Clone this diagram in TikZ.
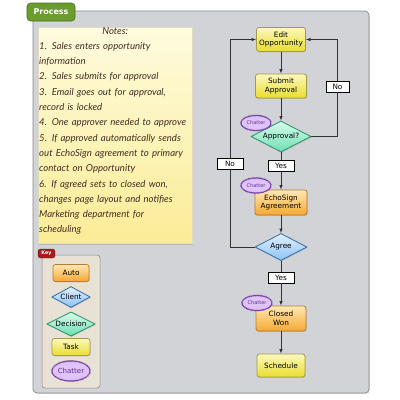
\documentclass[tikz,border=0pt]{standalone}
\usepackage{fontspec}
\setmainfont{DejaVu Sans}
\newfontfamily\notefont{Lato}
\usetikzlibrary{shapes.geometric,decorations.pathmorphing,shadows}

\definecolor{panelfill}{RGB}{209,211,214}
\definecolor{panelline}{RGB}{135,137,140}
\definecolor{tabgreen}{RGB}{106,156,46}
\definecolor{tabline}{RGB}{70,115,28}
\definecolor{notetop}{RGB}{255,251,222}
\definecolor{notebot}{RGB}{250,236,150}
\definecolor{noteink}{RGB}{70,45,35}
\definecolor{tasktop}{RGB}{252,248,190}
\definecolor{taskbot}{RGB}{232,222,45}
\definecolor{taskline}{RGB}{165,155,70}
\definecolor{autotop}{RGB}{255,232,180}
\definecolor{autobot}{RGB}{246,168,50}
\definecolor{autoline}{RGB}{185,125,45}
\definecolor{clienttop}{RGB}{225,240,255}
\definecolor{clientbot}{RGB}{140,195,245}
\definecolor{clientline}{RGB}{55,105,165}
\definecolor{dectop}{RGB}{215,252,235}
\definecolor{decbot}{RGB}{110,222,180}
\definecolor{decline}{RGB}{45,145,105}
\definecolor{chatfill}{RGB}{222,195,252}
\definecolor{chatline}{RGB}{120,65,165}
\definecolor{keyfill}{RGB}{232,226,214}
\definecolor{keyred}{RGB}{160,30,30}

\tikzset{
  shape base/.style={align=center, inner sep=1pt, font=\fontsize{7.3}{8.6}\selectfont,
    drop shadow={shadow xshift=0.6pt, shadow yshift=-0.9pt, opacity=0.3}},
  taskbox/.style={shape base, rectangle, rounded corners=2.5pt, draw=taskline, line width=0.8pt,
    top color=tasktop, bottom color=taskbot, minimum width=49pt, minimum height=24pt},
  autobox/.style={shape base, rectangle, rounded corners=2.5pt, draw=autoline, line width=0.8pt,
    top color=autotop, bottom color=autobot, minimum width=51pt, minimum height=25pt},
  clientdia/.style={shape base, diamond, aspect=2, draw=clientline, line width=0.8pt,
    top color=clienttop, bottom color=clientbot, minimum width=52pt, minimum height=27pt},
  decisiondia/.style={shape base, diamond, aspect=2, draw=decline, line width=0.8pt,
    top color=dectop, bottom color=decbot, minimum width=60pt, minimum height=31pt},
  chatterbub/.style={ellipse, draw=chatline, fill=chatfill, line width=0.6pt, inner sep=0pt,
    decorate, decoration={zigzag, segment length=1.3pt, amplitude=0.45pt},
    minimum width=30pt, minimum height=15pt, font=\fontsize{5}{5.5}\selectfont, text=chatline!80!black},
  lbl/.style={rectangle, draw=black, fill=white, line width=0.5pt, inner sep=1.2pt,
    minimum height=11pt, font=\fontsize{7.3}{8}\selectfont},
  flow/.style={draw=black!80, line width=0.6pt},
  >=latex
}

\begin{document}
\begin{tikzpicture}[x=1pt,y=-1pt]
  \useasboundingbox (0,0) rectangle (400,400);

  % panel and tab
  \draw[panelline, fill=panelfill, rounded corners=4pt, line width=0.7pt,
    drop shadow={shadow xshift=0.8pt, shadow yshift=-1pt, opacity=0.25}] (33,11) rectangle (369,393);
  \draw[tabline, fill=tabgreen, rounded corners=3.5pt, line width=0.6pt] (27,3) rectangle (75,21);
  \node[text=white, font=\fontsize{8}{8}\selectfont\bfseries] (tab) at (51,12) {Process};

  % sticky note
  \draw[draw=notebot!70!black!40, top color=notetop, bottom color=notebot, line width=0.3pt,
    drop shadow={shadow xshift=1pt, shadow yshift=-1.5pt, opacity=0.3}] (38,27) rectangle (192,243);
  \node[anchor=north west, text width=152pt, inner sep=0pt, text=noteink, align=left,
    font=\notefont\itshape\fontsize{9.6}{15.3}\selectfont] (notes) at (39,27) {%
    \centerline{Notes:}
    1. Sales enters opportunity\\
    information\\
    2. Sales submits for approval\\
    3. Email goes out for approval,\\
    record is locked\\
    4. One approver needed to approve\\
    5. If approved automatically sends\\
    out EchoSign agreement to primary\\
    contact on Opportunity\\
    6. If agreed sets to closed won,\\
    changes page layout and notifies\\
    Marketing department for\\
    scheduling};

  % key
  \draw[panelline, fill=keyfill, rounded corners=3pt, line width=0.5pt] (42,255) rectangle (100,388);
  \draw[keyred!80!black, fill=keyred, rounded corners=2.5pt] (38,249) rectangle (55,258);
  \node[text=white, font=\fontsize{4.8}{5}\selectfont\bfseries] (keytab) at (46.5,253.5) {Key};
  \node[autobox, minimum width=36pt, minimum height=17pt] (keyauto) at (71,273) {Auto};
  \node[clientdia, minimum width=38pt, minimum height=21pt] (keyclient) at (71,297) {Client};
  \node[decisiondia, minimum width=38pt, minimum height=21pt] (keydec) at (71,324) {Decision};
  \node[taskbox, minimum width=38pt, minimum height=17pt] (keytask) at (71,347) {Task};
  \node[chatterbub, minimum width=38pt, minimum height=20pt, font=\fontsize{7}{8}\selectfont] (keychat) at (71,371) {Chatter};

  % flow
  \node[taskbox] (edit) at (281,39.5) {Edit\\Opportunity};
  \node[taskbox, minimum width=51pt] (submit) at (281,86) {Submit\\Approval};
  \node[decisiondia] (approval) at (281,136.5) {Approval?};
  \node[autobox, minimum width=52pt] (echo) at (281,202.5) {EchoSign\\Agreement};
  \node[clientdia] (agree) at (281,247) {Agree};
  \node[autobox, minimum width=50pt] (closed) at (281,318.5) {Closed\\Won};
  \node[taskbox, minimum width=48pt, minimum height=23pt] (schedule) at (281,365.5) {Schedule};

  \node[lbl, minimum width=23pt] (noright) at (337.5,86.5) {No};
  \node[lbl, minimum width=26pt] (yesone) at (281,166) {Yes};
  \node[lbl, minimum width=26pt] (noleft) at (230,164) {No};
  \node[lbl, minimum width=26pt] (yestwo) at (281,277.5) {Yes};

  \draw[flow,->] (edit) -- (submit);
  \draw[flow,->] (submit) -- (approval);
  \draw[flow] (approval.east) -| (noright.south);
  \draw[flow,->] (noright.north) |- (edit.east);
  \draw[flow] (approval.south) -- (yesone.north);
  \draw[flow,->] (yesone.south) -- (echo.north);
  \draw[flow,->] (echo) -- (agree);
  \draw[flow] (agree.west) -| (noleft.south);
  \draw[flow,->] (noleft.north) |- (edit.west);
  \draw[flow] (agree.south) -- (yestwo.north);
  \draw[flow,->] (yestwo.south) -- (closed.north);
  \draw[flow,->] (closed) -- (schedule);

  % chatter bubbles
  \node[chatterbub] (chatone) at (256,123) {Chatter};
  \node[chatterbub] (chattwo) at (256,185.5) {Chatter};
  \node[chatterbub] (chatthree) at (257,303) {Chatter};
\end{tikzpicture}
\end{document}
